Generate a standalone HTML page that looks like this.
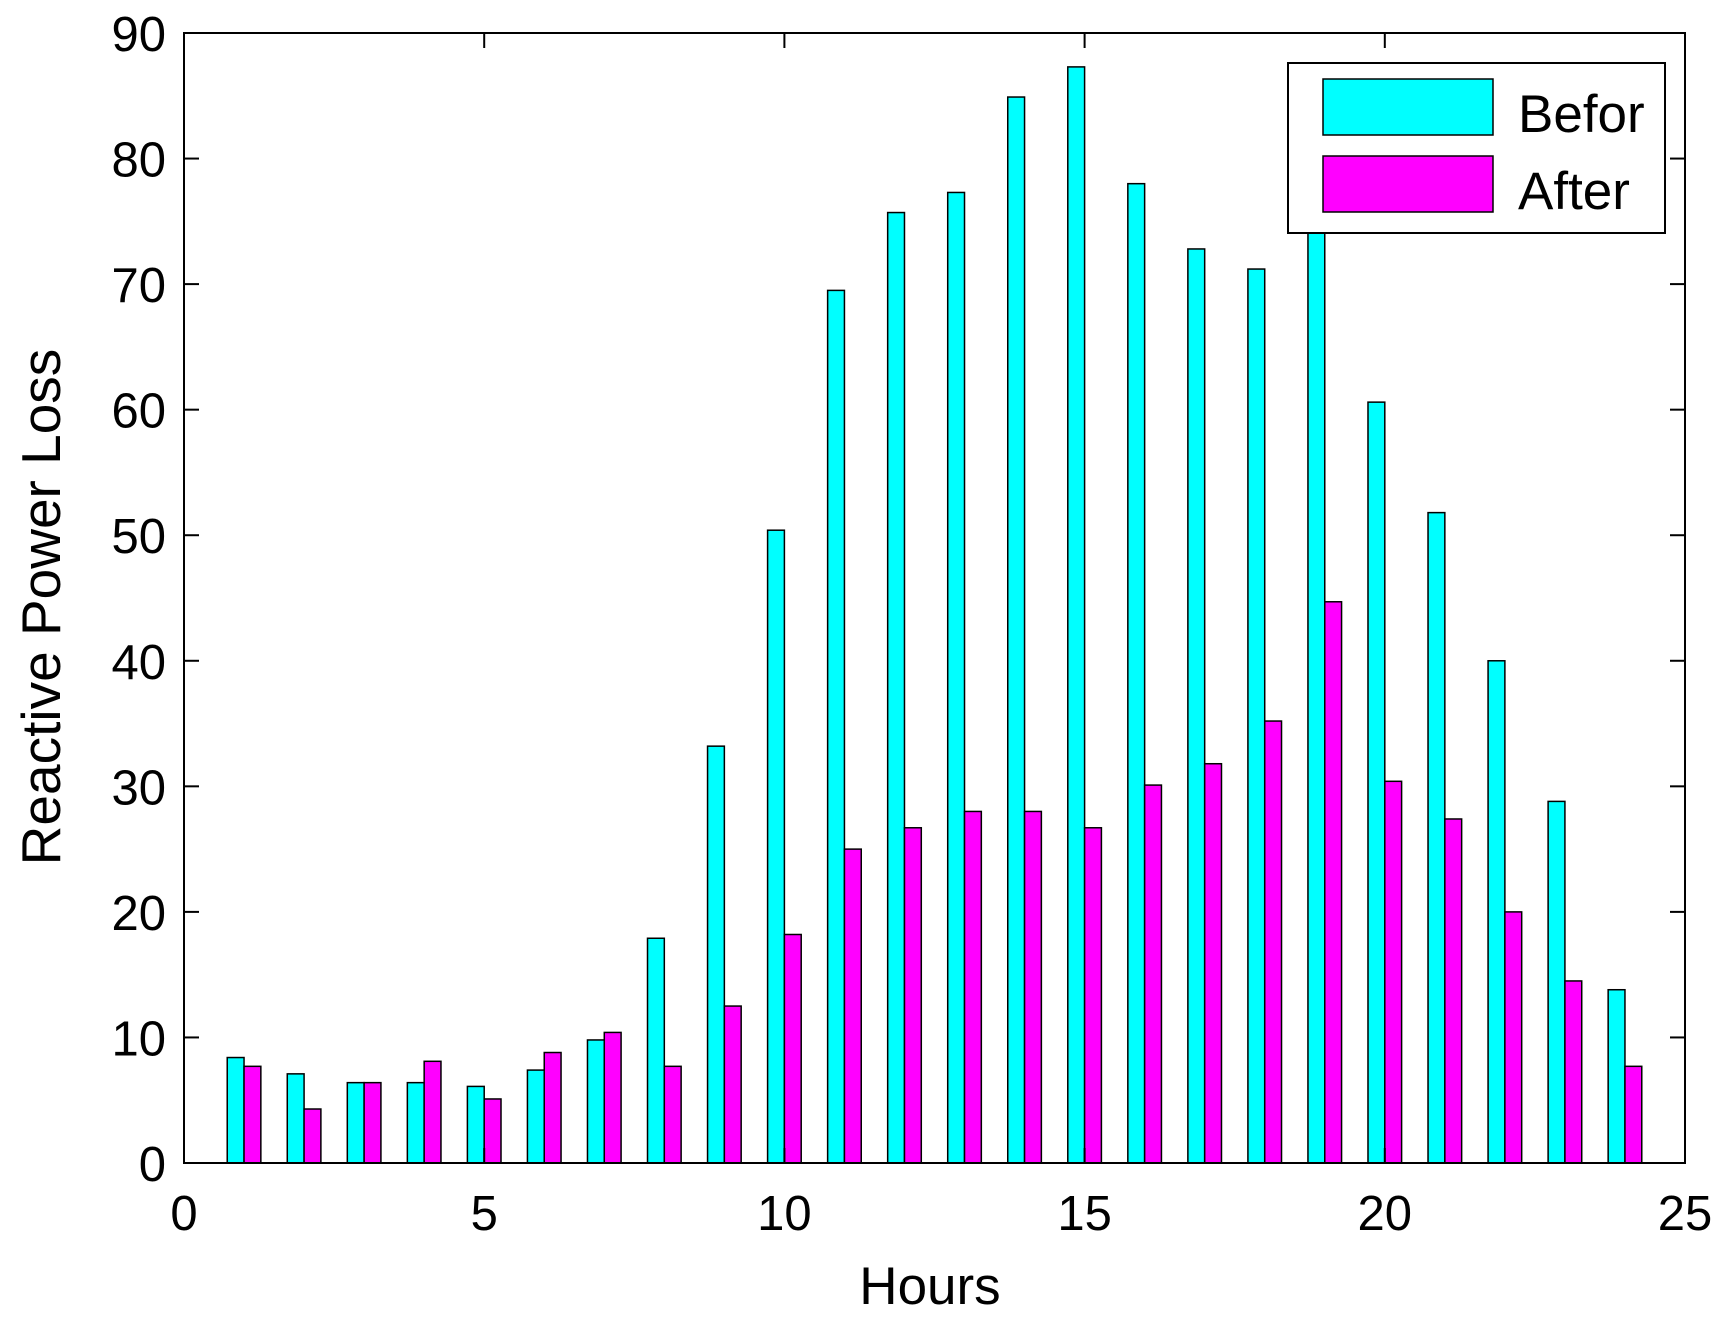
<!DOCTYPE html>
<html><head><style>body{margin:0;background:#fff}svg{display:block}text{font-family:"Liberation Sans",Arial,sans-serif;fill:#000}</style></head>
<body>
<svg width="1731" height="1320" xmlns="http://www.w3.org/2000/svg">
<rect width="1731" height="1320" fill="#fff"/>
<g id="bars" stroke="#000" stroke-width="1.5"></g>
<rect x="184" y="33" width="1501" height="1130" fill="none" stroke="#000" stroke-width="2"/>
<g id="ticks" stroke="#000" stroke-width="2"></g>
<g id="labels" font-size="49"></g>
<text x="930" y="1304" font-size="53" text-anchor="middle">Hours</text>
<text transform="translate(60,607) rotate(-90)" font-size="55" text-anchor="middle">Reactive Power Loss</text>
<rect x="1288" y="63" width="377" height="170" fill="#fff" stroke="#000" stroke-width="2"/>
<rect x="1323" y="79" width="170" height="56" fill="#0ff" stroke="#000" stroke-width="1.5"/>
<rect x="1323" y="156" width="170" height="56" fill="#f0f" stroke="#000" stroke-width="1.5"/>
<text x="1518" y="132" font-size="53">Befor</text>
<text x="1518" y="209" font-size="53">After</text>
<script>
var L=184,T=33,R=1685,B=1163,ux=(R-L)/25,uy=(B-T)/90;
var b=[8.4,7.1,6.4,6.4,6.1,7.4,9.8,17.9,33.2,50.4,69.5,75.7,77.3,84.9,87.3,78,72.8,71.2,75,60.6,51.8,40,28.8,13.8];
var a=[7.7,4.3,6.4,8.1,5.1,8.8,10.4,7.7,12.5,18.2,25,26.7,28,28,26.7,30.1,31.8,35.2,44.7,30.4,27.4,20,14.5,7.7];
var ns="http://www.w3.org/2000/svg",g=document.getElementById("bars"),w=0.28*ux;
function r(x,v,c){var e=document.createElementNS(ns,"rect");e.setAttribute("x",x);e.setAttribute("y",B-v*uy);e.setAttribute("width",w);e.setAttribute("height",v*uy);e.setAttribute("fill",c);g.appendChild(e);}
for(var i=0;i<24;i++){var cx=L+(i+1)*ux;r(cx-w,b[i],"#0ff");r(cx,a[i],"#f0f");}
var t=document.getElementById("ticks"),lb=document.getElementById("labels");
function ln(x1,y1,x2,y2){var e=document.createElementNS(ns,"line");e.setAttribute("x1",x1);e.setAttribute("y1",y1);e.setAttribute("x2",x2);e.setAttribute("y2",y2);t.appendChild(e);}
function tx(x,y,s,an){var e=document.createElementNS(ns,"text");e.setAttribute("x",x);e.setAttribute("y",y);e.setAttribute("text-anchor",an);e.textContent=s;lb.appendChild(e);}
for(var k=0;k<=5;k++){var x=L+k*5*ux;ln(x,B,x,B-15);ln(x,T,x,T+15);tx(x,1230,String(k*5),"middle");}
for(var k=0;k<=9;k++){var y=B-k*10*uy;ln(L,y,L+15,y);ln(R,y,R-15,y);tx(166,y+18,String(k*10),"end");}
</script>
</svg>
</body></html>
